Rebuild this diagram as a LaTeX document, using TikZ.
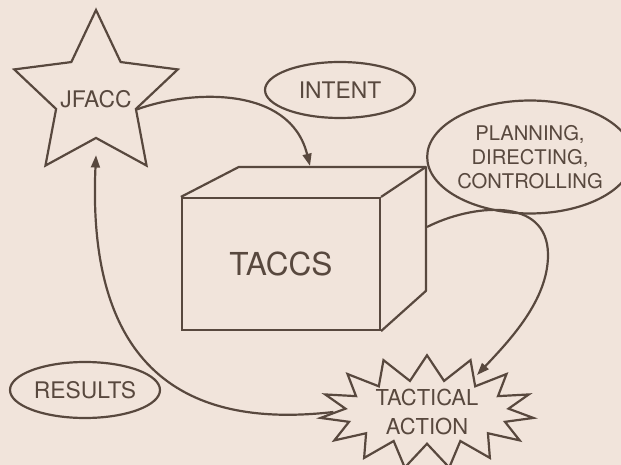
\documentclass[tikz,border=0pt]{standalone}
\usepackage{fontspec}
\setmainfont{TeX Gyre Heros}
\usepackage{tikz}
\usetikzlibrary{arrows.meta, positioning, shapes.geometric, shapes.symbols, calc}
\definecolor{paper}{RGB}{241,228,219}
\definecolor{ink}{RGB}{88,72,62}

\begin{document}
\begin{tikzpicture}[x=0.02cm, y=-0.02cm,
  base/.style={draw=ink, line width=1.25pt, text=ink, inner sep=0pt},
  chief/.style={base, star, star points=5, star point ratio=2.05, minimum size=3.44cm},
  word/.style={text=ink, inner sep=0pt, font=\fontsize{13pt}{15pt}\selectfont},
  tag/.style={base, ellipse, font=\fontsize{13pt}{15pt}\selectfont},
  boxface/.style={base, rectangle, minimum width=3.96cm, minimum height=2.64cm, font=\fontsize{18pt}{20pt}\selectfont},
  burst/.style={base, starburst, starburst points=15, starburst point height=0.5cm, random starburst=0, minimum width=4.28cm, minimum height=2.16cm, align=center, font=\fontsize{12.5pt}{16pt}\selectfont},
  flow/.style={draw=ink, line width=1.25pt, -{Triangle[length=7pt, width=5pt]}},
]

% page
\fill[paper] (0,0) rectangle (621,465);
\useasboundingbox (0,0) rectangle (621,465);

% nodes
\node[chief] (jfacc) at (96,96) {};
\node[word] (jfacctext) at ([yshift=-2pt]jfacc.center) {JFACC};
\node[tag, minimum width=3cm, minimum height=1.12cm] (intent) at (340,90) {INTENT};
\node[boxface] (taccs) at (281,264) {TACCS};
\node[tag, minimum width=3.5cm, minimum height=2.26cm, align=center,
  font=\fontsize{11.5pt}{13.6pt}\selectfont] (plan) at (530,157) {PLANNING,\\DIRECTING,\\CONTROLLING};
\node[burst] (action) at (427,412) {TACTICAL\\ACTION};
\node[tag, minimum width=3cm, minimum height=1.12cm] (results) at (85,390) {RESULTS};

% box depth
\draw[ink, line width=1.25pt, line join=round] (taccs.north west) -- ++(58,-30) coordinate (btl)
  -- ++(187,0) coordinate (btr) -- ++(0,124) coordinate (bbr) -- (taccs.south east);
\draw[ink, line width=1.25pt] (taccs.north east) -- (btr);

\coordinate (intentend) at (310,166);
\coordinate (planstart) at (427,227);
\coordinate (actionend) at (477,375);
\coordinate (jfaccend) at ($(jfacc.inner point 3)+(0,16)$);

% connectors
\draw[flow] (jfacc.inner point 4) .. controls (190,90) and (290,85) .. (intentend);
\draw[flow] (planstart) .. controls (470,205) and (548,195) .. (548,255)
  .. controls (548,300) and (510,340) .. (actionend);
\draw[flow] (action.west) .. controls (220,425) and (85,400) .. (jfaccend);

\end{tikzpicture}
\end{document}
